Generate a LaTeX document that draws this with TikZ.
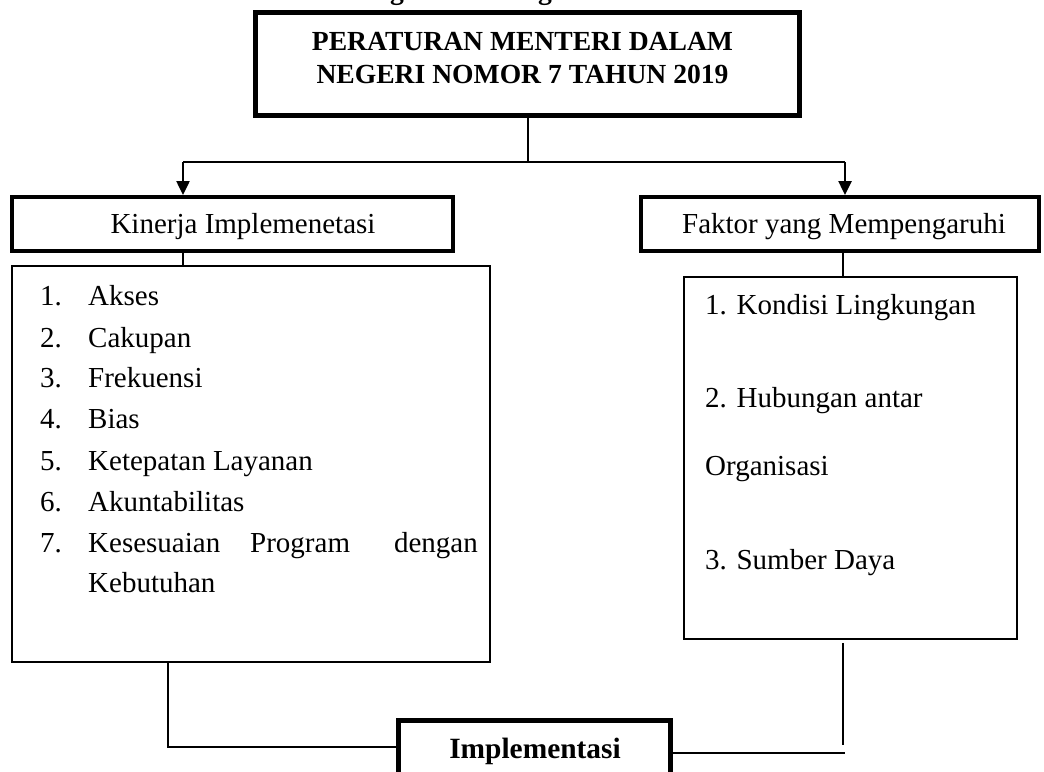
\documentclass[tikz,border=0pt]{standalone}
\usepackage{fontspec}
\setmainfont{Liberation Serif}
\usetikzlibrary{arrows.meta}
\begin{document}
\begin{tikzpicture}[x=1pt,y=-1pt,
  txt/.style={font=\fontsize{29}{34}\selectfont, inner sep=0pt},
  ttxt/.style={font=\fontsize{27.6}{32}\selectfont\bfseries, inner sep=0pt},
  btxt/.style={font=\fontsize{29.4}{34}\selectfont\bfseries, inner sep=0pt},
  boxthick/.style={draw, line width=5pt, inner sep=0pt},
  boxhead/.style={draw, line width=4pt, inner sep=0pt},
  boxthin/.style={draw, line width=1.6pt, inner sep=0pt},
  conn/.style={line width=2.5pt},
  arr/.style={line width=2.5pt, -{Triangle[length=14pt,width=13pt]}}]
\useasboundingbox (0,0) rectangle (1044,771);

% cut-off title glyphs at the top edge (as in the reference)
\node[ttxt, anchor=base] (g1) at (397,-1) {g};
\node[ttxt, anchor=base] (g2) at (545,-1) {g};

% boxes
\node[boxthick, minimum width=544pt, minimum height=103pt] (top) at (527.5,64) {};
\node[ttxt, anchor=base] (t1) at (522.5,50) {PERATURAN MENTERI DALAM};
\node[ttxt, anchor=base] (t2) at (522.5,83) {NEGERI NOMOR 7 TAHUN 2019};

\node[boxhead, minimum width=441pt, minimum height=54pt] (lhead) at (232.5,224) {};
\node[txt, anchor=base] (lheadt) at (243,233) {Kinerja Implemenetasi};

\node[boxhead, minimum width=398pt, minimum height=54pt] (rhead) at (840,224) {};
\node[txt, anchor=base] (rheadt) at (844,233) {Faktor yang Mempengaruhi};

\node[boxthin, minimum width=478pt, minimum height=396pt] (llist) at (251,464) {};
\node[boxthin, minimum width=333pt, minimum height=362pt] (rlist) at (850.5,458) {};

\node[boxthick, minimum width=272pt, minimum height=80pt] (impl) at (534.5,760.5) {};
\node[btxt, anchor=base] (implt) at (535,758) {Implementasi};

% left list
\node[txt, anchor=base west] (n1) at (40,305) {1.};
\node[txt, anchor=base west] (i1) at (88,305) {Akses};
\node[txt, anchor=base west] (n2) at (40,347) {2.};
\node[txt, anchor=base west] (i2) at (88,347) {Cakupan};
\node[txt, anchor=base west] (n3) at (40,387) {3.};
\node[txt, anchor=base west] (i3) at (88,387) {Frekuensi};
\node[txt, anchor=base west] (n4) at (40,428) {4.};
\node[txt, anchor=base west] (i4) at (88,428) {Bias};
\node[txt, anchor=base west] (n5) at (40,470) {5.};
\node[txt, anchor=base west] (i5) at (88,470) {Ketepatan Layanan};
\node[txt, anchor=base west] (n6) at (40,511) {6.};
\node[txt, anchor=base west] (i6) at (88,511) {Akuntabilitas};
\node[txt, anchor=base west] (n7) at (40,552) {7.};
\node[txt, anchor=base west] (i7a) at (88,552) {Kesesuaian};
\node[txt, anchor=base west] (i7b) at (250,552) {Program};
\node[txt, anchor=base east] (i7c) at (478,552) {dengan};
\node[txt, anchor=base west] (i7d) at (88,592) {Kebutuhan};

% right list
\node[txt, anchor=base west] (r1) at (705,314) {1. Kondisi Lingkungan};
\node[txt, anchor=base west] (r2) at (705,407) {2. Hubungan antar};
\node[txt, anchor=base west] (r2b) at (705,475) {Organisasi};
\node[txt, anchor=base west] (r3) at (705,569) {3. Sumber Daya};

% connectors
\coordinate (j) at (528,162);
\coordinate (jl) at (183,162);
\coordinate (jr) at (845,162);
\draw[conn] (top.south -| j) -- (j);
\draw[conn] (jl) -- (jr);
\draw[arr] (jl) -- (lhead.north -| jl);
\draw[arr] (jr) -- (rhead.north -| jr);

\coordinate (cl) at (183,0);
\coordinate (cr) at (843,0);
\draw[conn] (lhead.south -| cl) -- (llist.north -| cl);
\draw[conn] (rhead.south -| cr) -- (rlist.north -| cr);

\coordinate (lb) at (168,747);
\draw[conn] (llist.south -| lb) -- (lb) -- (lb -| impl.west);

\coordinate (rb) at (843,745);
\coordinate (rb2) at (845,753);
\draw[conn, shorten <=3pt] (rlist.south -| rb) -- (rb);
\draw[conn] (rb2 -| impl.east) -- (rb2);
\end{tikzpicture}
\end{document}
